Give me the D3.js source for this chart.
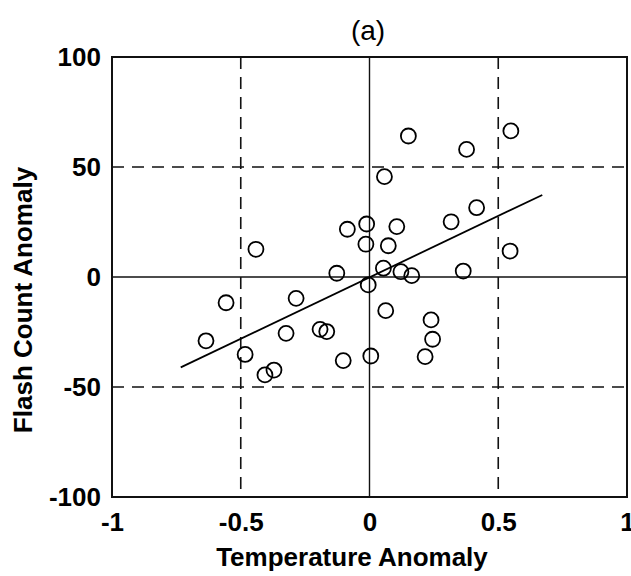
<!DOCTYPE html>
<html>
<head>
<meta charset="utf-8">
<script src="https://cdn.jsdelivr.net/npm/d3@7"></script>
<style>
  body { margin: 0; background: #fff; }
  svg { display: block; }
  .tick text { font-family: "Liberation Sans", Arial, sans-serif; }
</style>
</head>
<body>
<div id="container"></div>
<script>
// data
var tempAnomaly = [0.151, 0.377, 0.549, 0.058, 0.416, 0.317, 0.106, -0.011, -0.086, -0.014,
    0.073, 0.546, 0.364, 0.054, 0.122, 0.164, -0.005, -0.441, -0.127, -0.557,
    -0.285, -0.635, -0.483, -0.406, -0.371, -0.324, -0.192, -0.166, -0.102, 0.005,
    0.063, 0.239, 0.245, 0.216];
var flashAnomaly = [64.1, 58.0, 66.4, 45.6, 31.5, 25.1, 22.9, 24.1, 21.7, 14.9,
    14.2, 11.8, 2.7, 4.0, 2.4, 0.6, -3.6, 12.6, 1.7, -11.7,
    -9.7, -29.0, -35.2, -44.5, -42.3, -25.6, -23.8, -24.8, -38.0, -35.9,
    -15.3, -19.5, -28.3, -36.2];

// least squares line as drawn
var fitX = [-0.733, 0.671];
var fitY = [-41.1, 37.3];

var xTicks = [-1, -0.5, 0, 0.5, 1];
var yTicks = [-100, -50, 0, 50, 100];
var xGrid = [-0.5, 0.5];
var yGrid = [-50, 50];

var width = 631;
var height = 576;
var plotLeft = 112, plotRight = 627, plotTop = 57, plotBottom = 497;

var x = d3.scaleLinear().domain([-1, 1]).range([plotLeft, plotRight]);
var y = d3.scaleLinear().domain([-100, 100]).range([plotBottom, plotTop]);

var svg = d3.select('#container').append('svg')
    .attr('width', width)
    .attr('height', height);

var fmt = function (d) { return String(d); };

// dashed grid
svg.append('g').selectAll('line')
    .data(xGrid)
    .enter().append('line')
    .attr('x1', function (d) { return x(d); })
    .attr('x2', function (d) { return x(d); })
    .attr('y1', plotTop)
    .attr('y2', plotBottom)
    .attr('stroke', '#111')
    .attr('stroke-width', 1.6)
    .attr('stroke-dasharray', '12,8');

svg.append('g').selectAll('line')
    .data(yGrid)
    .enter().append('line')
    .attr('x1', plotLeft)
    .attr('x2', plotRight)
    .attr('y1', function (d) { return y(d); })
    .attr('y2', function (d) { return y(d); })
    .attr('stroke', '#111')
    .attr('stroke-width', 1.6)
    .attr('stroke-dasharray', '12,8');

// zero lines
svg.append('line')
    .attr('x1', x(0)).attr('x2', x(0))
    .attr('y1', plotTop).attr('y2', plotBottom)
    .attr('stroke', '#111').attr('stroke-width', 1.4);
svg.append('line')
    .attr('x1', plotLeft).attr('x2', plotRight)
    .attr('y1', y(0)).attr('y2', y(0))
    .attr('stroke', '#111').attr('stroke-width', 1.6);

// axes
var xAxis = svg.append('g')
    .attr('transform', 'translate(0,' + plotBottom + ')')
    .call(d3.axisBottom(x).tickValues(xTicks).tickSize(0).tickPadding(10).tickFormat(fmt));
var yAxis = svg.append('g')
    .attr('transform', 'translate(' + plotLeft + ',0)')
    .call(d3.axisLeft(y).tickValues(yTicks).tickSize(0).tickPadding(11).tickFormat(fmt));

[xAxis, yAxis].forEach(function (a) {
    a.select('.domain').remove();
    a.selectAll('text')
        .attr('font-size', 26)
        .attr('fill', '#000')
        .attr('font-weight', 'bold');
});
xAxis.selectAll('text').attr('dy', '0.92em');

// frame
svg.append('rect')
    .attr('x', plotLeft)
    .attr('y', plotTop)
    .attr('width', plotRight - plotLeft)
    .attr('height', plotBottom - plotTop)
    .attr('fill', 'none')
    .attr('stroke', '#111')
    .attr('stroke-width', 2);

// fit line
svg.append('path')
    .datum(d3.zip(fitX, fitY))
    .attr('fill', 'none')
    .attr('stroke', '#000')
    .attr('stroke-width', 1.8)
    .attr('d', d3.line()
        .x(function (d) { return x(d[0]); })
        .y(function (d) { return y(d[1]); }));

// points
svg.append('g').selectAll('circle')
    .data(d3.zip(tempAnomaly, flashAnomaly))
    .enter().append('circle')
    .attr('cx', function (d) { return x(d[0]); })
    .attr('cy', function (d) { return y(d[1]); })
    .attr('r', 7.5)
    .attr('fill', 'none')
    .attr('stroke', '#000')
    .attr('stroke-width', 1.8);

// titles
svg.append('text')
    .attr('x', 368)
    .attr('y', 40)
    .attr('text-anchor', 'middle')
    .attr('font-family', '"Liberation Sans", Arial, sans-serif')
    .attr('font-size', 28)
    .text('(a)');

svg.append('text')
    .attr('x', 352)
    .attr('y', 566)
    .attr('text-anchor', 'middle')
    .attr('font-family', '"Liberation Sans", Arial, sans-serif')
    .attr('font-size', 26)
    .attr('font-weight', 'bold')
    .text('Temperature Anomaly');

svg.append('text')
    .attr('transform', 'translate(32,300) rotate(-90)')
    .attr('text-anchor', 'middle')
    .attr('font-family', '"Liberation Sans", Arial, sans-serif')
    .attr('font-size', 26)
    .attr('font-weight', 'bold')
    .text('Flash Count Anomaly');
</script>
</body>
</html>
